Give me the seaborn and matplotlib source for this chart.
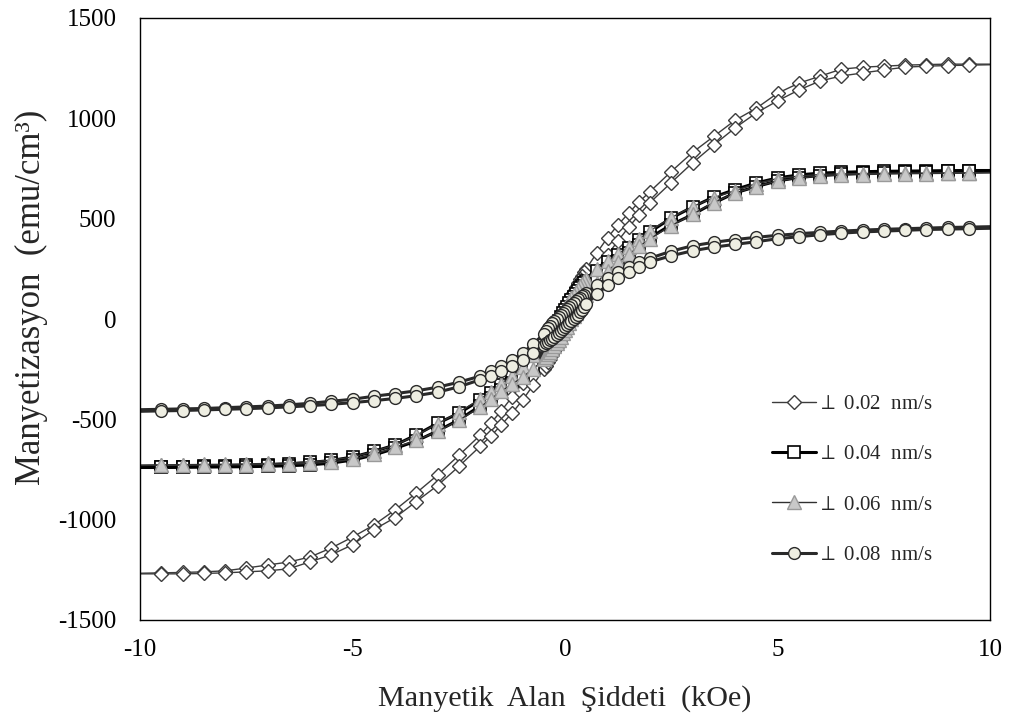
import matplotlib
matplotlib.use("Agg")
import matplotlib.pyplot as plt
import pandas as pd
import seaborn as sns
from matplotlib.lines import Line2D

# Applied field (kOe), shared by all branches (descending sweep order)
H = [10, 9.5, 9, 8.5, 8, 7.5, 7, 6.5, 6, 5.5, 5, 4.5, 4, 3.5, 3, 2.5, 2,
     1.75, 1.5, 1.25, 1, 0.75,
     0.5, 0.45, 0.4, 0.35, 0.3, 0.25, 0.2, 0.15, 0.1, 0.05, 0, -0.05, -0.1, -0.15,
     -0.2, -0.25, -0.3, -0.35, -0.4, -0.45, -0.5,
     -0.75, -1, -1.25, -1.5, -1.75,
     -2, -2.5, -3, -3.5, -4, -4.5, -5, -5.5, -6, -6.5, -7, -7.5, -8, -8.5, -9, -9.5, -10]

# Magnetization (emu/cm3): upper (descending field) and lower (ascending field) branches
m002_up = [1270, 1270, 1270, 1268, 1265, 1260, 1255, 1245, 1210, 1175, 1125, 1050, 990, 910, 830, 735, 635,
           585, 528, 470, 405, 330,
           250, 232, 215, 198, 180, 160, 140, 120, 100, 78, 55, 35, 15, -8, -30, -50, -70, -90, -110, -130, -150,
           -240, -320, -390, -458, -520,
           -580, -680, -778, -867, -952, -1027, -1087, -1141, -1186, -1211, -1226, -1241, -1255, -1260, -1263, -1265, -1267]
m002_lo = [1267, 1265, 1263, 1260, 1255, 1241, 1226, 1211, 1186, 1141, 1087, 1027, 952, 867, 778, 680, 580,
           520, 458, 390, 320, 240,
           150, 130, 110, 90, 70, 50, 30, 8, -15, -35, -55, -78, -100, -120, -140, -160, -180, -198, -215, -232, -250,
           -330, -405, -470, -528, -585,
           -635, -735, -830, -910, -990, -1050, -1125, -1175, -1210, -1245, -1255, -1260, -1265, -1268, -1270, -1270, -1270]

m004_up = [740, 740, 739, 738, 737, 736, 734, 731, 727, 718, 703, 678, 645, 608, 558, 503, 434,
           395, 354, 318, 284, 240,
           190, 178, 165, 152, 140, 125, 110, 95, 80, 62, 45, 28, 10, -8, -25, -42, -60, -78, -95, -112, -130,
           -190, -250, -290, -330, -370,
           -405, -470, -520, -578, -628, -660, -688, -705, -715, -722, -727, -730, -733, -735, -737, -738, -740]
m004_lo = [740, 738, 737, 735, 733, 730, 727, 722, 715, 705, 688, 660, 628, 578, 520, 470, 405,
           370, 330, 290, 250, 190,
           130, 112, 95, 78, 60, 42, 25, 8, -10, -28, -45, -62, -80, -95, -110, -125, -140, -152, -165, -178, -190,
           -240, -284, -318, -354, -395,
           -434, -503, -558, -608, -645, -678, -703, -718, -727, -731, -734, -736, -737, -738, -739, -740, -740]

m006_up = [730, 728, 728, 727, 727, 726, 725, 723, 720, 712, 700, 675, 640, 605, 560, 505, 440,
           400, 360, 325, 290, 250,
           200, 188, 175, 162, 150, 135, 120, 105, 90, 72, 55, 38, 20, 2, -15, -32, -50, -68, -85, -102, -120,
           -180, -240, -282, -322, -362,
           -400, -465, -522, -580, -628, -660, -688, -703, -712, -717, -720, -722, -724, -725, -726, -727, -728]
m006_lo = [728, 727, 726, 725, 724, 722, 720, 717, 712, 703, 688, 660, 628, 580, 522, 465, 400,
           362, 322, 282, 240, 180,
           120, 102, 85, 68, 50, 32, 15, -2, -20, -38, -55, -72, -90, -105, -120, -135, -150, -162, -175, -188, -200,
           -250, -290, -325, -360, -400,
           -440, -505, -560, -605, -640, -675, -700, -712, -720, -723, -725, -726, -727, -727, -728, -728, -730]

m008_up = [460, 458, 456, 453, 450, 447, 443, 438, 432, 425, 417, 407, 396, 382, 365, 338, 303,
           282, 258, 232, 205, 170,
           130, 122, 114, 106, 98, 89, 80, 71, 62, 52, 42, 32, 22, 11, 0, -11, -22, -34, -46, -60, -75,
           -125, -170, -205, -235, -260,
           -285, -315, -340, -358, -372, -385, -400, -410, -420, -428, -434, -438, -442, -446, -448, -450, -452]
m008_lo = [452, 450, 448, 446, 442, 438, 434, 428, 420, 410, 400, 385, 372, 358, 340, 315, 285,
           260, 235, 205, 170, 125,
           75, 60, 46, 34, 22, 11, 0, -11, -22, -32, -42, -52, -62, -71, -80, -89, -98, -106, -114, -122, -130,
           -170, -205, -232, -258, -282,
           -303, -338, -365, -382, -396, -407, -417, -425, -432, -438, -443, -447, -450, -453, -456, -458, -460]

labels = [r"$\perp$ 0.02  nm/s", r"$\perp$ 0.04  nm/s", r"$\perp$ 0.06  nm/s", r"$\perp$ 0.08  nm/s"]
x_ticks = [-10, -5, 0, 5, 10]
y_ticks = [-1500, -1000, -500, 0, 500, 1000, 1500]

sns.set_style("white")
plt.rcParams["font.family"] = ["Liberation Serif", "DejaVu Serif"]

fig = plt.figure(figsize=(10.16, 7.24), dpi=100)
ax = fig.add_axes([140 / 1016, 1 - 620 / 724, 850 / 1016, 602 / 724])

styles = [
    dict(color="#3c3c3c", linewidth=1.0, marker="D", markersize=7.5,
         markerfacecolor="white", markeredgecolor="#3c3c3c", markeredgewidth=1.0),
    dict(color="black", linewidth=2.2, marker="s", markersize=8.5,
         markerfacecolor="white", markeredgecolor="black", markeredgewidth=1.2),
    dict(color="#303030", linewidth=1.0, marker="^", markersize=9.5,
         markerfacecolor="#c8c8c8", markeredgecolor="#9a9a9a", markeredgewidth=1.0),
    dict(color="#2a2a2a", linewidth=2.2, marker="o", markersize=8.5,
         markerfacecolor="#eeeee2", markeredgecolor="#2a2a2a", markeredgewidth=1.0),
]
series = [(m002_up, m002_lo), (m004_up, m004_lo), (m006_up, m006_lo), (m008_up, m008_lo)]

n = len(H)
handles = []
for (up, lo), st, lab in zip(series, styles, labels):
    df = pd.DataFrame({
        "H": H + H[::-1],
        "M": up + lo[::-1],
        "branch": ["down"] * n + ["up"] * n,
    })
    sns.lineplot(data=df, x="H", y="M", units="branch", estimator=None, sort=False,
                 ax=ax, legend=False, markevery=slice(1, n - 1), **st)
    handles.append(Line2D([], [], **st))

ax.set_xlim(-10, 10)
ax.set_ylim(-1500, 1500)
ax.set_xticks(x_ticks)
ax.set_yticks(y_ticks)
ax.set_xticklabels([str(v) for v in x_ticks])
ax.set_yticklabels([str(v) for v in y_ticks])
ax.tick_params(axis="both", length=0, labelsize=18, colors="black")
ax.tick_params(axis="y", pad=17)
ax.tick_params(axis="x", pad=14)
for sp in ax.spines.values():
    sp.set_visible(True)
    sp.set_color("black")
    sp.set_linewidth(1.0)

ax.set_xlabel("Manyetik  Alan  \u015eiddeti  (kOe)", fontsize=21.7)
ax.set_ylabel("Manyetizasyon  (emu/cm\u00b3)", fontsize=25)
ax.xaxis.set_label_coords(0.5, -0.108)
ax.yaxis.set_label_coords(-0.108, 0.536)

ax.legend(handles=handles, labels=labels, loc="center left",
          bbox_to_anchor=(0.744, 0.233), frameon=False, fontsize=15,
          handlelength=2.1, handletextpad=0.0, labelspacing=1.48,
          borderpad=0, borderaxespad=0, numpoints=1)

fig.savefig("out.png", dpi=100, facecolor="white")
